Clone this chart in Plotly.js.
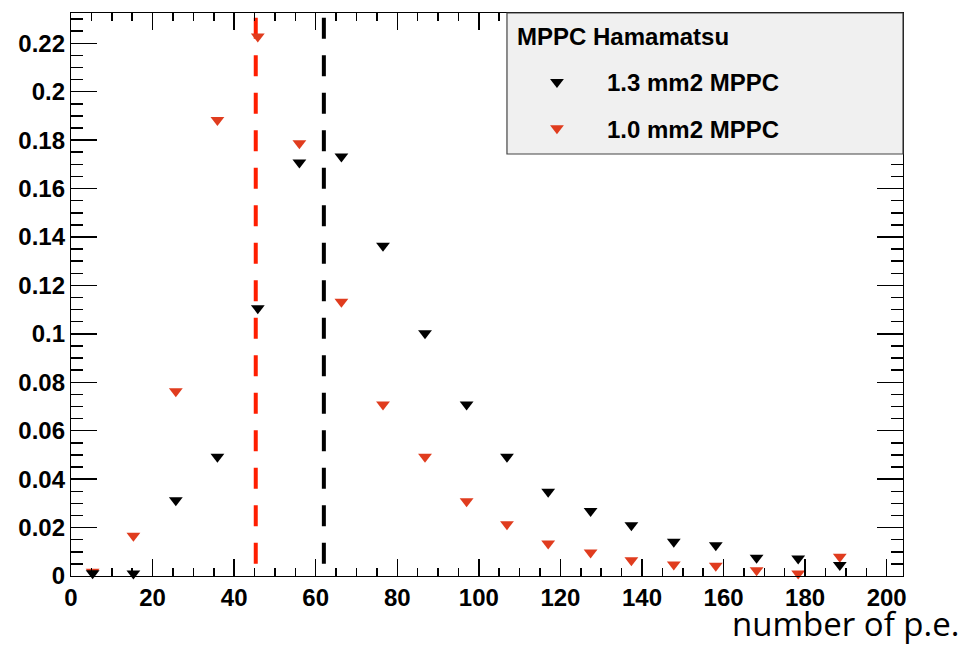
<!DOCTYPE html>
<html><head><meta charset="utf-8">
<script src="https://cdn.plot.ly/plotly-3.0.1.min.js"></script>
<style>body{margin:0;padding:0;background:#fff}#chart{width:961px;height:649px}</style>
</head><body><div id="chart"></div>
<script>
const peBins = [5.3, 15.3, 25.7, 35.9, 45.8, 56.0, 66.3, 76.5, 86.8, 97.0, 106.9, 117.0, 127.4, 137.4, 147.8, 158.1, 168.1, 178.3, 188.5];
const mppc13 = [0.0011, 0.0010, 0.0313, 0.0492, 0.1106, 0.1708, 0.1732, 0.1364, 0.1002, 0.0708, 0.0492, 0.0348, 0.0268, 0.0210, 0.0141, 0.0127, 0.0075, 0.0072, 0.0045];
const mppc10 = [0.0018, 0.0166, 0.0763, 0.1883, 0.2228, 0.1787, 0.1133, 0.0708, 0.0492, 0.0309, 0.0214, 0.0134, 0.0097, 0.0065, 0.0047, 0.0042, 0.0024, 0.0010, 0.0079];
const seriesNames = ['1.3 mm2 MPPC', '1.0 mm2 MPPC'];
const meanLines = [62.0, 45.3];
const legendTitle = 'MPPC Hamamatsu';
const xTitle = 'number of p.e.';
const xTickVals = [0, 20, 40, 60, 80, 100, 120, 140, 160, 180, 200];
const yTickVals = [0, 0.02, 0.04, 0.06, 0.08, 0.1, 0.12, 0.14, 0.16, 0.18, 0.2, 0.22];
const yTickText = ['0', '0.02', '0.04', '0.06', '0.08', '0.1', '0.12', '0.14', '0.16', '0.18', '0.2', '0.22'];

const BLACK = '#000000', RED = '#e03c1e', REDLINE = '#ff1e00';
const FAM = 'Liberation Sans, Arial, sans-serif';
const tickFont = {family: FAM, size: 24, weight: 'bold', color: '#000'};
const YMAX = 0.2325;

const traces = [
  {x: peBins, y: mppc10, name: seriesNames[1], type: 'scatter', mode: 'markers', cliponaxis: false, legendrank: 2, legendgroup: 'b',
   marker: {symbol: 'triangle-down', size: 12, color: RED}},
  {x: peBins, y: mppc13, name: seriesNames[0], type: 'scatter', mode: 'markers', cliponaxis: false, legendrank: 1, legendgroup: 'a',
   marker: {symbol: 'triangle-down', size: 12, color: BLACK}}
];

const layout = {
  width: 961, height: 649,
  margin: {l: 71, r: 58, t: 13, b: 73},
  paper_bgcolor: '#fff', plot_bgcolor: '#fff',
  showlegend: true,
  legend: {x: 0.524, xanchor: 'left', y: 0.9165, yanchor: 'top', bgcolor: 'rgba(0,0,0,0)', borderwidth: 0,
    itemwidth: 90, tracegroupgap: 12,
    font: {family: FAM, size: 24, weight: 'bold', color: '#000'}},
  xaxis: {range: [0, 204], showgrid: false, zeroline: false, showline: true, linecolor: '#000', linewidth: 1.2, mirror: 'ticks',
    ticks: 'inside', ticklen: 17, tickwidth: 1.5, tickcolor: '#000', tickvals: xTickVals, tickfont: tickFont,
    minor: {dtick: 5, ticks: 'inside', ticklen: 8, tickwidth: 1.5, tickcolor: '#000', showgrid: false}},
  yaxis: {range: [0, YMAX], showgrid: false, zeroline: false, showline: true, linecolor: '#000', linewidth: 1.2, mirror: 'ticks',
    ticks: 'inside', ticklen: 26, tickwidth: 1.5, tickcolor: '#000', tickvals: yTickVals, ticktext: yTickText, tickfont: tickFont,
    minor: {dtick: 0.005, ticks: 'inside', ticklen: 12, tickwidth: 1.5, tickcolor: '#000', showgrid: false}},
  shapes: [
    {type: 'line', layer: 'below', xref: 'x', yref: 'y', x0: meanLines[0], x1: meanLines[0], y0: 0.2305, y1: 0,
     line: {color: BLACK, width: 4, dash: '21px,16.5px'}},
    {type: 'line', layer: 'below', xref: 'x', yref: 'y', x0: meanLines[1], x1: meanLines[1], y0: 0.2305, y1: 0,
     line: {color: REDLINE, width: 4, dash: '21px,16.5px'}},
    {type: 'rect', layer: 'above', xref: 'paper', yref: 'paper', x0: 0.524, x1: 1, y0: 0.7496, y1: 1,
     fillcolor: '#f0f0f0', line: {color: '#444', width: 1.2}}
  ],
  annotations: [
    {text: legendTitle, xref: 'paper', yref: 'paper', x: 0.5335, y: 0.9574, xanchor: 'left', yanchor: 'middle', showarrow: false,
     font: {family: FAM, size: 24, weight: 'bold', color: '#000'}},
    {text: xTitle, xref: 'paper', yref: 'paper', x: 1.0695, y: -0.1279, xanchor: 'right', yanchor: 'bottom', showarrow: false,
     font: {family: 'Open Sans, Noto Sans, sans-serif', size: 33, color: '#000'}}
  ]
};

Plotly.newPlot('chart', traces, layout, {staticPlot: true});
</script>
</body></html>
